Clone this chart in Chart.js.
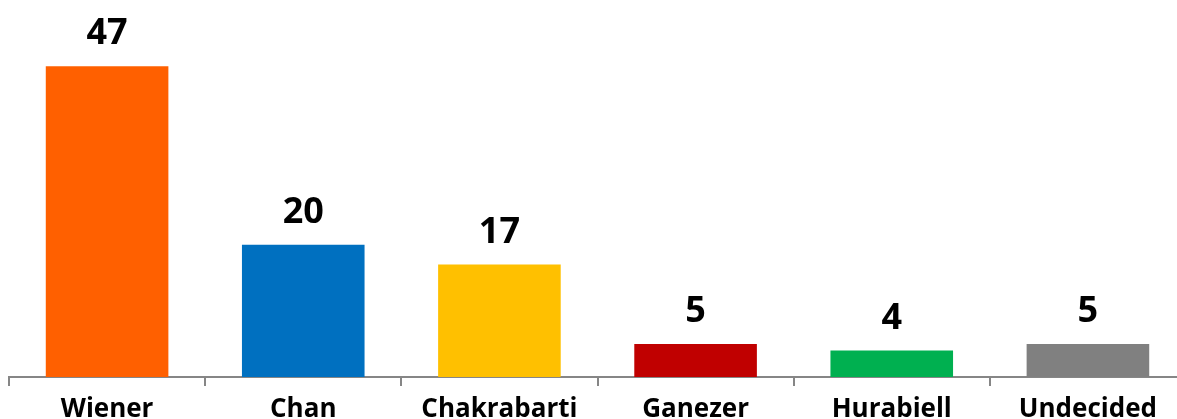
<!DOCTYPE html>
<html>
<head>
<meta charset="utf-8">
<script src="https://cdn.jsdelivr.net/npm/chart.js@4"></script>
<style>
  html, body { margin: 0; padding: 0; background: #fff; overflow: hidden; }
  #wrap { width: 1186px; height: 450px; position: relative; }
</style>
</head>
<body>
<div id="wrap"><canvas id="votes"></canvas></div>
<script>
const candidates = ['Wiener', 'Chan', 'Chakrabarti', 'Ganezer', 'Hurabiell', 'Undecided'];
const votes = [47, 20, 17, 5, 4, 5];
const barColors = ['#FF6000', '#0070C0', '#FFC000', '#C00000', '#00B050', '#808080'];

const FONT = '"Open Sans", "Liberation Sans", sans-serif';

// value labels sitting above each bar
const valueLabels = {
    id: 'valueLabels',
    afterDatasetsDraw(chart) {
        const ctx = chart.ctx;
        const meta = chart.getDatasetMeta(0);
        ctx.save();
        ctx.font = 'bold 36px ' + FONT;
        ctx.fillStyle = '#000';
        ctx.textAlign = 'center';
        ctx.textBaseline = 'alphabetic';
        meta.data.forEach((bar, i) => {
            ctx.fillText(String(votes[i]), bar.x, bar.y - 22);
        });
        ctx.restore();
    }
};

new Chart(document.getElementById('votes'), {
    type: 'bar',
    data: {
        labels: candidates,
        datasets: [{
            data: votes,
            backgroundColor: barColors,
            borderWidth: 0,
            categoryPercentage: 1,
            barPercentage: 0.625
        }]
    },
    options: {
        responsive: true,
        maintainAspectRatio: false,
        animation: false,
        layout: { padding: { left: 9, right: 0, top: 0, bottom: 0 } },
        plugins: {
            legend: { display: false },
            tooltip: { enabled: false }
        },
        scales: {
            y: {
                display: false,
                min: 0,
                max: 57
            },
            x: {
                afterFit(scale) { scale.height = 73; },
                border: { display: true, color: '#868686', width: 2 },
                grid: {
                    offset: true,
                    drawOnChartArea: false,
                    drawTicks: true,
                    tickLength: 9,
                    color: '#868686',
                    lineWidth: 2
                },
                ticks: {
                    color: '#000',
                    padding: 8,
                    maxRotation: 0,
                    autoSkip: false,
                    font: { family: FONT, size: 26, weight: 'bold' }
                }
            }
        }
    },
    plugins: [valueLabels]
});
</script>
</body>
</html>
